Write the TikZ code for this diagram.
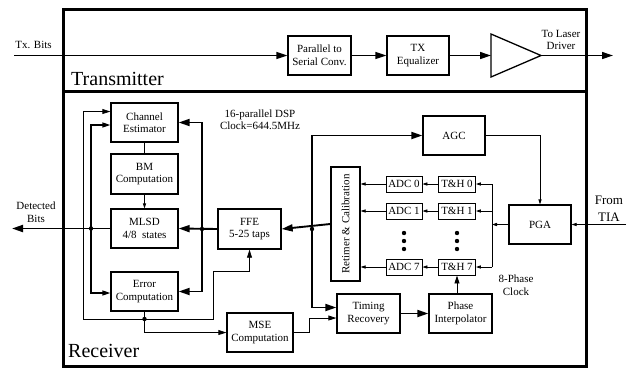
\documentclass[tikz,border=0pt]{standalone}
\usepackage{fontspec}
\setmainfont{Liberation Serif}
\usetikzlibrary{arrows.meta,calc}
\begin{document}
\begin{tikzpicture}[x=1pt,y=-1pt,
  bigtip/.tip={Triangle[length=11pt,width=7pt]},
  midtip/.tip={Triangle[length=8pt,width=5pt]},
  smalltip/.tip={Triangle[length=5pt,width=3.2pt]},
  blk/.style={draw,line width=1.3pt,align=center,inner sep=0pt,
    font=\fontsize{11}{12.5}\selectfont},
  sblk/.style={draw,line width=0.9pt,inner sep=0pt,minimum height=16pt,
    font=\fontsize{11}{12}\selectfont},
  frame/.style={draw,line width=3pt},
  wA/.style={line width=1.9pt},
  wB/.style={line width=1.3pt},
  wC/.style={line width=0.8pt},
  lbl/.style={align=center,inner sep=0pt,font=\fontsize{11}{12.5}\selectfont},
  biglbl/.style={inner sep=0pt,font=\fontsize{20}{22}\selectfont},
  dot/.style={circle,fill,inner sep=0pt,minimum size=4.4pt}
]
\useasboundingbox (0,0) rectangle (629,368);

% frames
\draw[frame] (63,9) rectangle (586,91);
\draw[frame] (63,91) rectangle (586,366);
\node[biglbl,anchor=base west] (txlbl) at (71,85) {Transmitter};
\node[biglbl,anchor=base west] (rxlbl) at (68,357) {Receiver};

% ---------- transmitter ----------
\coordinate (txin) at (14,55.5);
\node[lbl] (txbits) at (33.5,45) {Tx. Bits};
\node[blk,minimum width=63pt,minimum height=39pt] (ps) at (319.5,55.5) {Parallel to\\Serial Conv.};
\node[blk,minimum width=62pt,minimum height=39pt] (txeq) at (418,55.5) {TX\\Equalizer};
\coordinate (ampin) at (491,55.5);
\coordinate (ampout) at (541,55.5);
\draw[line width=1.3pt,line join=miter] (491,34) -- (491,77) -- (541,55.5) -- cycle;
\coordinate (txout) at (613,55.5);
\node[lbl] (laser) at (561,40) {To Laser\\Driver};

\draw[wB,-bigtip] (txin) -- (ps.west);
\draw[wB,-bigtip] (ps.east) -- (txeq.west);
\draw[wB,-bigtip] (txeq.east) -- (ampin);
\draw[wB,-bigtip] (ampout) -- (txout);

% ---------- receiver blocks ----------
\node[blk,minimum width=67pt,minimum height=39pt] (ce) at (144.5,122.5) {Channel\\Estimator};
\node[blk,minimum width=67pt,minimum height=40pt] (bm) at (144.5,174) {BM\\Computation};
\node[blk,minimum width=67pt,minimum height=39pt] (mlsd) at (144.5,228.5) {MLSD\\4/8~~states};
\node[blk,minimum width=67pt,minimum height=39pt] (ec) at (144.5,291.5) {Error\\Computation};
\node[blk,minimum width=63pt,minimum height=40pt] (ffe) at (249.5,229) {FFE\\5-25 taps};
\node[blk,minimum width=66pt,minimum height=39pt] (mse) at (260,332.5) {MSE\\Computation};
\node[blk,minimum width=29pt,minimum height=114pt] (ret) at (345.5,224) {};
\node[lbl,rotate=90] (rettext) at (ret.center) {Retimer \& Calibration};
\node[blk,minimum width=62pt,minimum height=39pt] (agc) at (454,135.5) {AGC};
\node[blk,minimum width=62pt,minimum height=39pt] (pga) at (540,224.5) {PGA};
\node[blk,minimum width=63pt,minimum height=39pt] (tr) at (368.5,313.5) {Timing\\Recovery};
\node[blk,minimum width=63pt,minimum height=39pt] (pi) at (460.5,313.5) {Phase\\Interpolator};

\node[sblk,minimum width=36pt] (adc0) at (404,184) {ADC 0};
\node[sblk,minimum width=36pt] (adc1) at (404,211) {ADC 1};
\node[sblk,minimum width=36pt] (adc7) at (404,267) {ADC 7};
\node[sblk,minimum width=37pt] (th0) at (457,184) {T\&H 0};
\node[sblk,minimum width=37pt] (th1) at (457,211) {T\&H 1};
\node[sblk,minimum width=37pt] (th7) at (457,267) {T\&H 7};
\foreach \yy in {233,241,249}{
  \fill (404,\yy) circle[radius=2.2pt];
  \fill (457,\yy) circle[radius=2.2pt];
}

% labels
\node[lbl] (det) at (36,212) {Detected\\Bits};
\node[lbl] (dsp) at (260,120) {16-parallel DSP\\Clock=644.5MHz};
\node[align=center,inner sep=0pt,font=\fontsize{13}{17}\selectfont] (tia) at (609,209) {From\\TIA};
\node[lbl] (clk) at (516,285) {8-Phase\\Clock};

% junctions / free ends
\coordinate (detout) at (12,228.5);
\coordinate (jL) at (91,228.5);
\coordinate (jR) at (202,229);
\coordinate (jF) at (312,229);
\coordinate (jE) at (144.5,319);
\coordinate (tiain) at (626,224.5);
\coordinate (cbus) at (492,224.5);

% MLSD output to detected bits
\draw[wA,-bigtip] (mlsd.west) -- (detout);
\node[dot] (djL) at (jL) {};
% feedback from detected bits to channel estimator and error computation
\draw[wB,-midtip] (jL) |- ($(ce.west)+(0,2.5)$);
\draw[wB,-midtip] (jL) |- ($(ec.west)+(0,1.5)$);

% FFE output
\draw[wA,-bigtip] (ffe.west) -- (mlsd.east);
\node[dot] (djR) at (jR) {};
\draw[wA,-bigtip] (jR) |- (ce.east);
\draw[wA,-bigtip] (jR) |- (ec.east);

% channel estimator chain
\draw[wC] (ce.south) -- (bm.north);
\draw[wC,-smalltip] (bm.south) -- (mlsd.north);

% error path
\draw[wC] (ec.south) -- (jE);
\node[dot] (djE) at (jE) {};
\draw[wC,-midtip] (jE) -| ($(ce.west)+(-27,-11)$) -- ($(ce.west)+(0,-11)$);
\draw[wC,-midtip] (jE) -| (213,271) -| (ffe.south);
\draw[wC,-midtip] (jE) |- (mse.west);

% retimer output
\draw[wA,-bigtip] (ret.west) -- (ffe.east);
\node[dot] (djF) at (jF) {};
\draw[wA,-bigtip] (jF) |- (agc.west);
\draw[wA,-bigtip] (jF) |- ($(tr.west)+(0,-6)$);

% MSE to timing recovery
\draw[wC,-midtip] (mse.east) -| ($(tr.west)+(-27,4.5)$) -- ($(tr.west)+(0,4.5)$);

% timing -> PI -> T&H 7
\draw[wA,-bigtip] (tr.east) -- (pi.west);
\draw[wC,-midtip] (pi.north -| th7.south) -- (th7.south);

% ADC / T&H chains
\foreach \k in {0,1,7}{
  \draw[wC,-smalltip] (th\k.west) -- (adc\k.east);
  \draw[wC,-smalltip] (adc\k.west) -- (adc\k.west -| ret.east);
  \draw[wC,-smalltip] (cbus |- th\k) -- (th\k.east);
}
\draw[wC] (cbus |- th0) -- (cbus |- th7);
\draw[wC,-smalltip] (pga.west) -- (cbus);

% AGC -> PGA, TIA -> PGA
\draw[wC,-smalltip] (agc.east) -| (pga.north);
\draw[wC,-smalltip] (tiain) -- (pga.east);

\end{tikzpicture}
\end{document}
